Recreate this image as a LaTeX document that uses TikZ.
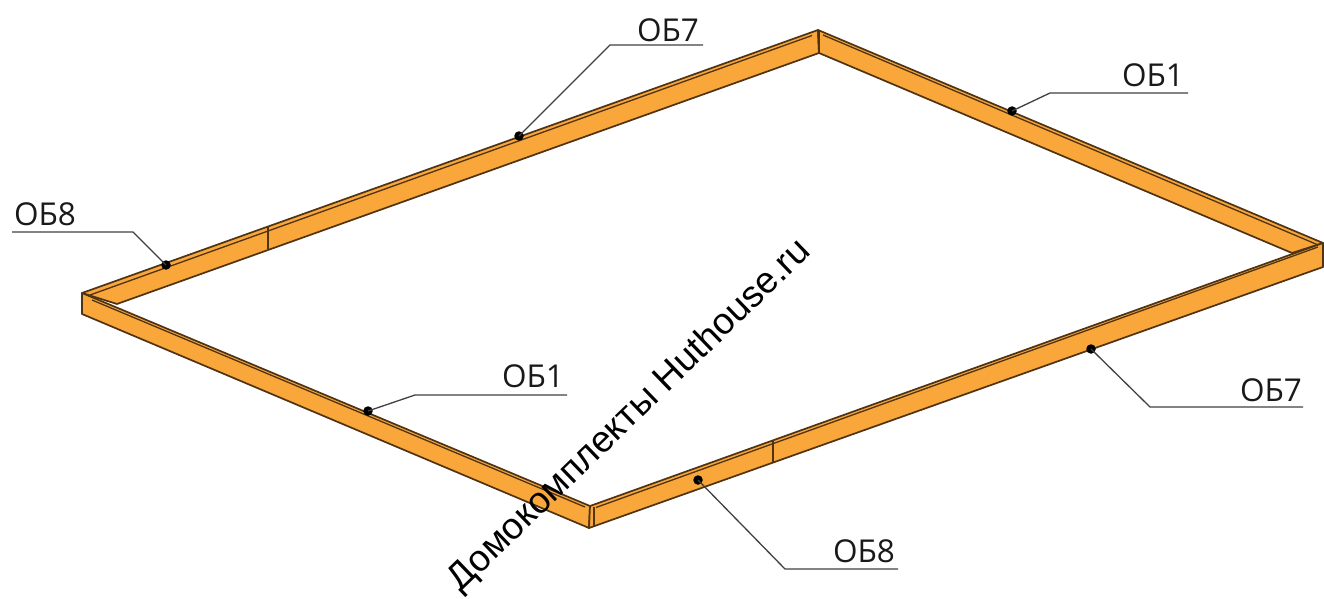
\documentclass[tikz,border=0pt]{standalone}
\usepackage{fontspec}
\setmainfont{Open Sans}
\newfontfamily\wmfont{Liberation Sans}
\definecolor{wood}{HTML}{F9A63A}
\definecolor{edge}{HTML}{4F3312}
\tikzset{
  beam/.style={fill=wood,draw=edge,line width=1.7pt,line join=round},
  seam/.style={draw=edge,line width=1.3pt},
  groove/.style={draw=edge,line width=1.3pt},
  tick/.style={circle,fill=black,inner sep=0pt,minimum size=9.5pt},
  leader/.style={draw=black!75,line width=1.3pt},
  lab/.style={font=\fontsize{31.5}{31.5}\selectfont,inner sep=0pt,text=black!90},
  wm/.style={font=\wmfont\fontsize{37}{37}\selectfont,inner sep=0pt,text=black,rotate=44}
}
\begin{document}
\begin{tikzpicture}[x=1pt,y=-1pt]
\useasboundingbox (0,0) rectangle (1324,599);
% corners
\coordinate (L) at (82,293); \coordinate (Lb) at (82,314); \coordinate (Li) at (117,304);
\coordinate (T) at (818,30); \coordinate (Ti) at (819,53);
\coordinate (R) at (1323,243); \coordinate (Rb) at (1323,267); \coordinate (Ri) at (1292,253);
\coordinate (B) at (590,506); \coordinate (Bb) at (589,528);
% beams
\draw[beam] (L) -- (T) -- (Ti) -- (Li) -- cycle;
\draw[beam] (T) -- (R) -- (Ri) -- (Ti) -- cycle;
\draw[beam] (L) -- (B) -- (Bb) -- (Lb) -- cycle;
\draw[beam] (B) -- (R) -- (Rb) -- (Bb) -- cycle;
% top narrow faces
\draw[groove] (90,295) -- (812,35.5);
\draw[groove] (823,35) -- (1317,244.5);
\draw[groove] (92,300) -- (585,507);
\draw[groove] (596,507.5) -- (1318,247);
\draw[seam] (594,507) -- (594,527);
\draw[seam] (819,31) -- (819,53);
% seams
\draw[seam] (268,227) -- (268,249);
\draw[seam] (773,440) -- (773,462);
% labels
\node[lab] (t1) at (668,30) {ОБ7};
\node[lab] (t2) at (1153,75) {ОБ1};
\node[lab] (t3) at (45,214) {ОБ8};
\node[lab] (t4) at (533,376) {ОБ1};
\node[lab] (t5) at (1271,390) {ОБ7};
\node[lab] (t6) at (864,551) {ОБ8};
% dots
\node[tick] (d1) at (519,136) {};
\node[tick] (d2) at (1012,111) {};
\node[tick] (d3) at (166,265) {};
\node[tick] (d4) at (368,411) {};
\node[tick] (d5) at (1091,349) {};
\node[tick] (d6) at (698,480) {};
% leaders
\coordinate (k1) at (610,45); \coordinate (e1) at (703,45);
\coordinate (k2) at (1050,93); \coordinate (e2) at (1188,93);
\coordinate (k3) at (133,232); \coordinate (e3) at (12,232);
\coordinate (k4) at (415,395); \coordinate (e4) at (567,395);
\coordinate (k5) at (1150,407); \coordinate (e5) at (1303,407);
\coordinate (k6) at (785,569); \coordinate (e6) at (898,569);
\draw[leader] (d1.center) -- (k1) -- (e1);
\draw[leader] (d2.center) -- (k2) -- (e2);
\draw[leader] (d3.center) -- (k3) -- (e3);
\draw[leader] (d4.center) -- (k4) -- (e4);
\draw[leader] (d5.center) -- (k5) -- (e5);
\draw[leader] (d6.center) -- (k6) -- (e6);
% watermark
\node[wm] (w) at (630,416) {Домокомплекты Huthouse.ru};
\end{tikzpicture}
\end{document}
